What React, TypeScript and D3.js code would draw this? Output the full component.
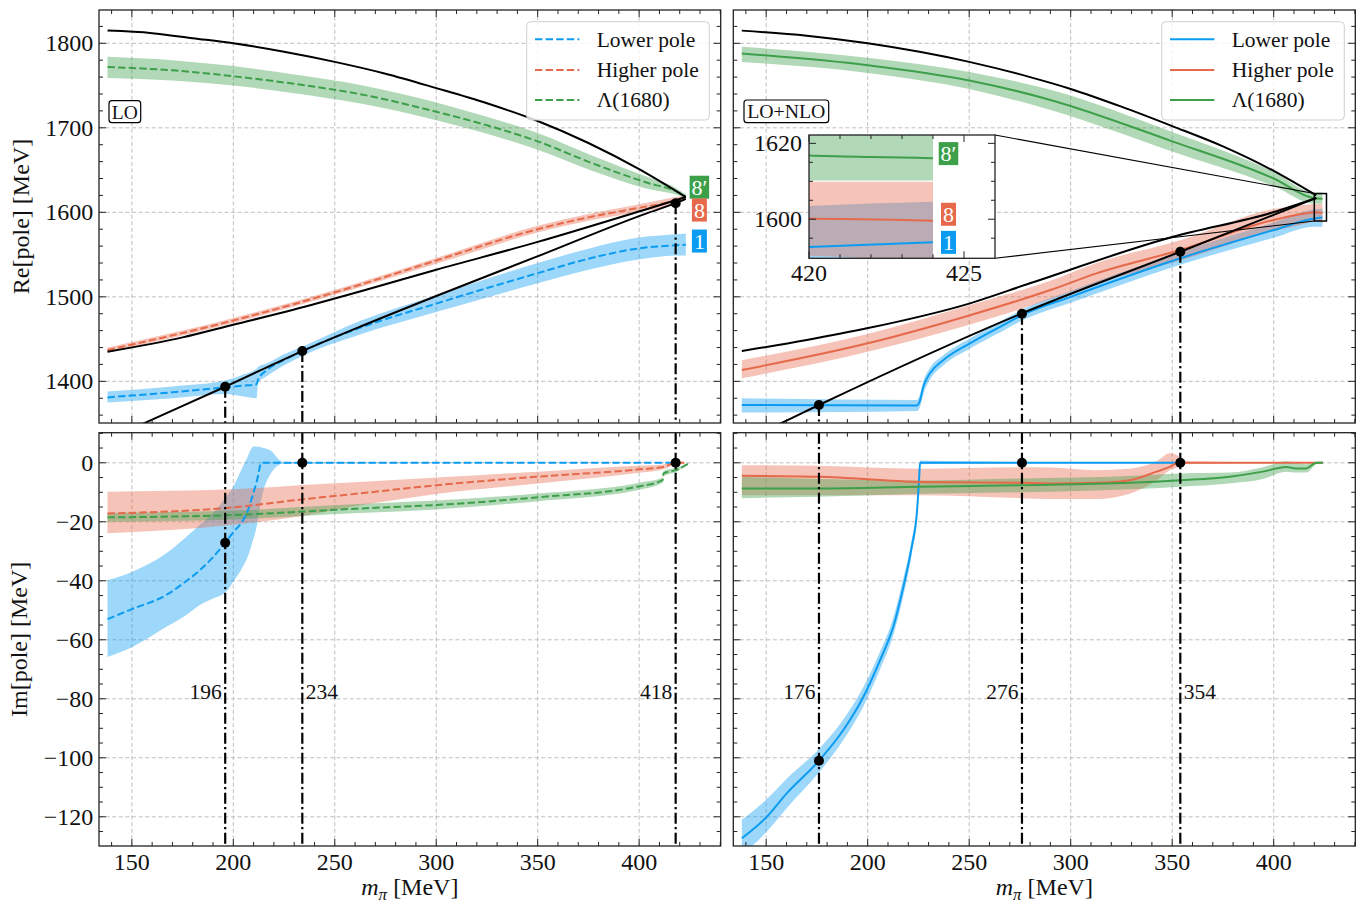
import React from 'react';
import * as d3 from 'd3';

type Pt = [number, number];
type Band = [number, number, number, number]; // m_pi, centre, lower, upper

// ---------------- LO : Re[pole] ----------------
const loReBlackA: Pt[] = [[138, 1815], [160, 1812], [180, 1806], [200, 1800], [225, 1790], [250, 1778], [275, 1764], [300, 1747], [325, 1729], [350, 1708], [375, 1682], [400, 1651], [423, 1618]];
const loReBlackB: Pt[] = [[138, 1435], [175, 1452], [200, 1467], [230, 1485], [262, 1506], [300, 1532], [350, 1565], [404, 1604], [423, 1618]];
const loReBlackC: Pt[] = [[140, 1333], [155.6, 1350], [196, 1393.6], [234, 1435.8], [262.4, 1464.6], [300, 1501], [349.5, 1547.5], [403.7, 1598.8], [418, 1610.8], [423, 1616]];
const loReLower: Band[] = [
  [138, 1381, 1375, 1388], [170, 1387, 1380, 1394], [196, 1393, 1385, 1401], [205, 1395, 1382, 1408],
  [211.5, 1396.5, 1380, 1415], [212.2, 1402, 1398, 1417], [216.4, 1413, 1406, 1421], [225, 1425, 1419, 1432],
  [234, 1435.8, 1430, 1441], [262, 1463, 1455, 1471], [300, 1492, 1482, 1502], [350, 1528, 1516, 1540],
  [375, 1545, 1532, 1557], [399, 1557, 1544, 1570], [418, 1561, 1549, 1574], [423, 1561.5, 1549, 1575]];
const loReHigher: Band[] = [
  [138, 1437, 1434, 1440], [200, 1472, 1469, 1475], [262, 1514, 1511, 1517], [300, 1543, 1539, 1546],
  [350, 1580, 1576, 1584], [375, 1594, 1590, 1598], [399, 1605, 1600, 1609], [418, 1614, 1610, 1618], [423, 1618, 1616, 1620]];
const loReL1680: Band[] = [
  [138, 1772, 1759, 1784], [170, 1768, 1756, 1780], [200, 1761, 1750, 1773], [230, 1752, 1741, 1763],
  [262, 1740, 1729, 1751], [300, 1719, 1709, 1730], [325, 1703, 1693, 1713], [350, 1684, 1674, 1694],
  [377, 1658, 1649, 1667], [404, 1635, 1628, 1642], [418, 1625, 1621, 1629], [423, 1619, 1617, 1621]];

// ---------------- LO : Im[pole] ----------------
const loImLower: Band[] = [
  [138, -53, -65.8, -39.8], [150, -49.6, -62.5, -37], [167, -44.8, -55.6, -30.7], [177, -40, -51.5, -25],
  [183.5, -36.4, -48.2, -21], [190, -32, -46, -17], [196, -27.1, -44, -12], [200, -23.5, -40.3, -8],
  [204.9, -19.4, -35, -1], [207, -16.5, -32, 2], [209.8, -10.4, -26, 5.4], [211.5, -6.5, -21.7, 5.5],
  [213.9, 0, -12, 5.2], [218, 0, -4.2, 4.3], [224.5, 0, -0.3, 0.3], [418, 0, 0, 0]];
const loImHigher: Band[] = [
  [138, -17.2, -23.9, -9.8], [200, -15.1, -21, -9], [234, -12.4, -18, -7.5], [262, -10.4, -14.5, -6.5],
  [300, -7.6, -10.6, -5], [350, -4.7, -7, -3], [399, -2.3, -3.5, -1], [412, -1.4, -2.2, -0.6],
  [418, 0, -0.5, 0.5], [422.5, 0, 0, 0]];
const loImL1680: Band[] = [
  [138, -18.5, -20, -17], [200, -17.7, -19.2, -16.2], [262, -15.5, -17, -14], [300, -14.3, -15.8, -12.8],
  [350, -11.7, -13, -10.4], [399, -8.1, -9.3, -6.9], [411.6, -5.9, -6.8, -5], [412, -3.6, -4.5, -2.7],
  [418, -2.5, -3.2, -1.8], [425, 0, 0, 0]];

// ---------------- LO+NLO : Re[pole] ----------------
const nloReBlackA: Pt[] = [[138, 1815], [170, 1809], [200, 1800], [250, 1778], [280, 1760], [300, 1746], [325, 1725], [350, 1702], [375, 1678], [400, 1649], [421, 1620]];
const nloReBlackB: Pt[] = [[138, 1435.9], [170, 1449], [199.6, 1462.7], [250.4, 1492.3], [279.9, 1516], [350.4, 1571], [399.7, 1600], [421, 1617]];
const nloReBlackC: Pt[] = [[140, 1332], [156.9, 1350], [176, 1372], [276, 1480.5], [354, 1553.4], [400, 1597], [421, 1617]];
const nloReLower: Band[] = [
  [138, 1372, 1363, 1380], [224.2, 1371.5, 1365, 1378], [225.8, 1377.4, 1370, 1385], [227.4, 1393.6, 1385, 1400],
  [230.7, 1409.5, 1402, 1416], [237.3, 1425.2, 1419, 1431], [250.4, 1445, 1439, 1451], [266.8, 1466.6, 1460, 1473],
  [276.1, 1478.5, 1472, 1485], [300, 1500, 1493, 1507], [354, 1545.6, 1538, 1553], [400, 1579, 1570, 1588],
  [420, 1592.7, 1583, 1603.5], [424, 1593.9, 1583, 1604.6]];
const nloReHigher: Band[] = [
  [138, 1413.4, 1403.6, 1425], [200, 1445, 1435, 1456], [250, 1478, 1467, 1490], [290, 1508, 1497, 1519],
  [312.7, 1527.8, 1516, 1540], [354, 1555.4, 1543, 1567], [400, 1591, 1578, 1604], [416, 1598.8, 1587, 1609],
  [420, 1600.1, 1590.3, 1609.9], [424, 1599.6, 1587.5, 1609.9]];
const nloReL1680: Band[] = [
  [138, 1788, 1778, 1796], [200, 1774, 1765, 1783], [250, 1756, 1746, 1766], [290, 1733, 1721, 1745],
  [350, 1684, 1672, 1695], [400, 1640, 1631, 1648], [420, 1616.8, 1610.2, 1623.5], [422, 1616.4, 1610.2, 1623.5],
  [424, 1616.1, 1610.2, 1623.5]];

// ---------------- LO+NLO : Im[pole] ----------------
const nloImLower: Band[] = [
  [138, -127.3, -133, -121], [150.3, -120, -125, -114], [160.2, -112, -117, -107], [176, -101, -105, -97],
  [188, -90.6, -94, -87], [197.9, -79.3, -82.5, -76], [206.1, -66.9, -70, -64], [212.6, -55.6, -58.5, -52.5],
  [217.6, -42, -45, -39], [221.7, -28.5, -31, -26], [224.2, -17.2, -19, -15], [225.3, -5.9, -7, -5],
  [225.8, 0, -0.5, 0.8], [236, 0, -0.3, 0.6], [352.8, 0, 0, 0]];
const nloImHigher: Band[] = [
  [138, -4.4, -11, -0.8], [176, -4.7, -11, -1], [225.8, -6.5, -11, -2], [276, -6.8, -12, -1.5],
  [290, -7, -12.3, -1.6], [312.7, -6.8, -12.3, -2.5], [329, -5.9, -10.5, -2], [342.3, -3, -6, 0.5],
  [348.8, -1.4, -2.5, 3.2], [352.8, 0, -1.5, 2.4], [355, 0, -0.5, 0.5], [424.3, 0, 0, 0]];
const nloImL1680: Band[] = [
  [138, -8.7, -12, -4.7], [176, -8.7, -11.5, -5.5], [225.8, -8.1, -10.5, -6], [276, -7.6, -10, -5.3],
  [329, -6.8, -9, -4.5], [354, -5.9, -8.1, -3.6], [378.3, -4.7, -7, -3.3], [394.7, -3, -5.5, -1.5],
  [406.2, -1.4, -3, 0.5], [411, -1.9, -3.3, 0], [416, -1.9, -3.3, -0.5], [421, 0, -0.5, 0.3], [424.3, 0, 0, 0]];

// ---------------- markers (vertical lines) ----------------
const loMarkX = [196, 234, 418];
const loMarkRe = [1393.6, 1435.8, 1610.8];
const loMarkIm = [-27.1, 0, 0];
const nloMarkX = [176, 276, 354];
const nloMarkRe = [1372, 1480, 1553.4];
const nloMarkIm = [-101, 0, 0];
const markLabelY = -80;

// ---------------- end labels ----------------
const loTags: [string, number, number][] = [["8′", 429.7, 1629.7], ["8", 429.7, 1602.7], ["1", 429.7, 1566]];
const insetTags: [string, number, number][] = [["8′", 424.5, 1617.3], ["8", 424.5, 1601.3], ["1", 424.5, 1593.9]];

// ---------------- axes ----------------
const X_DOMAIN: [number, number] = [133.8, 440.2];
const RE_DOMAIN: [number, number] = [1350.7, 1839.4];
const IM_DOMAIN: [number, number] = [-129.9, 10.2];
const INSET_X: [number, number] = [420, 426];
const INSET_Y: [number, number] = [1589.7, 1622.2];
const xMajor = [150, 200, 250, 300, 350, 400];
const reMajor = [1400, 1500, 1600, 1700, 1800];
const imMajor = [-120, -100, -80, -60, -40, -20, 0];
const insetXMajor = [420, 425];
const insetYMajor = [1600, 1620];
const legendNames = ['Lower pole', 'Higher pole', 'Λ(1680)'];

const FONT = '"Liberation Serif", "Times New Roman", "DejaVu Serif", serif';
const COL = { blue: '#0b9cf2', orange: '#e5694a', green: '#3e9f4b' };
const SER_COLS = [COL.blue, COL.orange, COL.green];

const PL = { l: 99, r: 720.7 };
const PR = { l: 733.3, r: 1355.3 };
const PT = { t: 10, b: 423 };
const PB = { t: 432.7, b: 846 };
const INB = { l: 809, r: 995, t: 135, b: 258.3 };

type Scale = d3.ScaleLinear<number, number>;

const fmt = (v: number) => (v < 0 ? '−' : '') + Math.abs(v);

function bandPath(xs: Scale, ys: Scale, d: Band[]) {
  return d3.area<Band>().x(p => xs(p[0])).y0(p => ys(p[2])).y1(p => ys(p[3])).curve(d3.curveMonotoneX)(d) || '';
}
function linePath(xs: Scale, ys: Scale, d: Band[]) {
  return d3.line<Band>().x(p => xs(p[0])).y(p => ys(p[1])).curve(d3.curveMonotoneX)(d) || '';
}
function ptPath(xs: Scale, ys: Scale, d: Pt[]) {
  return d3.line<Pt>().x(p => xs(p[0])).y(p => ys(p[1])).curve(d3.curveMonotoneX)(d) || '';
}

function seriesEls(key: string, xs: Scale, ys: Scale, list: Band[][], dashed: boolean) {
  const bands = list.map((d, i) => (
    <path key={key + 'b' + i} d={bandPath(xs, ys, d)} fill={SER_COLS[i]} fillOpacity={0.4} stroke="none" />
  ));
  const lines = list.map((d, i) => (
    <path key={key + 'l' + i} d={linePath(xs, ys, d)} fill="none" stroke={SER_COLS[i]} strokeWidth={2}
      strokeDasharray={dashed ? '7.4 3.2' : undefined} />
  ));
  return [...bands, ...lines];
}

function frameEls(key: string, xs: Scale, ys: Scale, box: { l: number; r: number; t: number; b: number },
  xMaj: number[], xMin: number[], yMaj: number[], yMin: number[], majLen: number, minLen: number) {
  const els: React.ReactNode[] = [];
  xMaj.forEach((v, i) => {
    const x = xs(v);
    els.push(<line key={key + 'xM' + i} x1={x} x2={x} y1={box.b} y2={box.b - majLen} stroke="#222" strokeWidth={1} />);
    els.push(<line key={key + 'xMt' + i} x1={x} x2={x} y1={box.t} y2={box.t + majLen} stroke="#222" strokeWidth={1} />);
  });
  xMin.forEach((v, i) => {
    const x = xs(v);
    els.push(<line key={key + 'xm' + i} x1={x} x2={x} y1={box.b} y2={box.b - minLen} stroke="#222" strokeWidth={1} />);
    els.push(<line key={key + 'xmt' + i} x1={x} x2={x} y1={box.t} y2={box.t + minLen} stroke="#222" strokeWidth={1} />);
  });
  yMaj.forEach((v, i) => {
    const y = ys(v);
    els.push(<line key={key + 'yM' + i} x1={box.l} x2={box.l + majLen} y1={y} y2={y} stroke="#222" strokeWidth={1} />);
    els.push(<line key={key + 'yMr' + i} x1={box.r} x2={box.r - majLen} y1={y} y2={y} stroke="#222" strokeWidth={1} />);
  });
  yMin.forEach((v, i) => {
    const y = ys(v);
    els.push(<line key={key + 'ym' + i} x1={box.l} x2={box.l + minLen} y1={y} y2={y} stroke="#222" strokeWidth={1} />);
    els.push(<line key={key + 'ymr' + i} x1={box.r} x2={box.r - minLen} y1={y} y2={y} stroke="#222" strokeWidth={1} />);
  });
  els.push(<rect key={key + 'sp'} x={box.l} y={box.t} width={box.r - box.l} height={box.b - box.t} fill="none" stroke="#222" strokeWidth={1.3} />);
  return els;
}

function gridEls(key: string, xs: Scale, ys: Scale, box: { l: number; r: number; t: number; b: number }, xMaj: number[], yMaj: number[]) {
  return [
    ...xMaj.map((v, i) => <line key={key + 'gx' + i} x1={xs(v)} x2={xs(v)} y1={box.t} y2={box.b} stroke="#b8b8b8" strokeWidth={0.9} strokeDasharray="4 2.6" />),
    ...yMaj.map((v, i) => <line key={key + 'gy' + i} x1={box.l} x2={box.r} y1={ys(v)} y2={ys(v)} stroke="#b8b8b8" strokeWidth={0.9} strokeDasharray="4 2.6" />),
  ];
}

function legendEls(key: string, right: number, top: number, dashed: boolean) {
  const w = 182.6, h = 98.3, l = right - w;
  const rows = [17.6, 48.3, 78.3];
  return (
    <g key={key}>
      <rect x={l} y={top} width={w} height={h} rx={4} fill="white" fillOpacity={0.8} stroke="#d0d0d0" strokeWidth={1} />
      {legendNames.map((n, i) => (
        <g key={n}>
          <line x1={l + 8.3} x2={l + 52.6} y1={top + rows[i]} y2={top + rows[i]} stroke={SER_COLS[i]} strokeWidth={2}
            strokeDasharray={dashed ? '7.4 3.2' : undefined} />
          <text x={l + 70} y={top + rows[i] + 7.3} fontSize={21.5} fontFamily={FONT} fill="#111">{n}</text>
        </g>
      ))}
    </g>
  );
}

function tagEls(key: string, xs: Scale, ys: Scale, tags: [string, number, number][]) {
  return tags.map(([t, x, y], i) => {
    const w = t.length > 1 ? 19.5 : 15;
    const cx = xs(x), cy = ys(y);
    return (
      <g key={key + i}>
        <rect x={cx - w / 2} y={cy - 11.5} width={w} height={23} fill={SER_COLS[2 - i]} />
        <text x={cx} y={cy + 7.6} fontSize={22} fontFamily={FONT} fill="white" textAnchor="middle">{t}</text>
      </g>
    );
  });
}

export default function App() {
  const xL = d3.scaleLinear().domain(X_DOMAIN).range([PL.l, PL.r]);
  const xR = d3.scaleLinear().domain(X_DOMAIN).range([PR.l, PR.r]);
  const yRe = d3.scaleLinear().domain(RE_DOMAIN).range([PT.b, PT.t]);
  const yIm = d3.scaleLinear().domain(IM_DOMAIN).range([PB.b, PB.t]);
  const xIn = d3.scaleLinear().domain(INSET_X).range([INB.l, INB.r]);
  const yIn = d3.scaleLinear().domain(INSET_Y).range([INB.b, INB.t]);

  const xMinor = d3.range(140, 441, 10).filter(v => v % 50 !== 0);
  const reMinor = d3.range(1360, 1840, 20).filter(v => v % 100 !== 0);
  const imMinor = d3.range(-125, 10.1, 5).filter(v => v % 20 !== 0);
  const inXMinor = [421, 422, 423, 424];
  const inYMinor = [1595, 1605, 1610, 1615];

  const boxTL = { l: PL.l, r: PL.r, t: PT.t, b: PT.b };
  const boxTR = { l: PR.l, r: PR.r, t: PT.t, b: PT.b };
  const boxBL = { l: PL.l, r: PL.r, t: PB.t, b: PB.b };
  const boxBR = { l: PR.l, r: PR.r, t: PB.t, b: PB.b };
  const boxIn = INB;

  const dashDot = '11 3.4 2.2 3.4';

  const markerTop = (key: string, xs: Scale, xv: number[], yv: number[]) => xv.map((x, i) => (
    <g key={key + i}>
      <line x1={xs(x)} x2={xs(x)} y1={yRe(yv[i])} y2={PT.b} stroke="#000" strokeWidth={2.2} strokeDasharray={dashDot} />
      <circle cx={xs(x)} cy={yRe(yv[i])} r={5} fill="#000" />
    </g>
  ));
  const markerBot = (key: string, xs: Scale, xv: number[], yv: number[], anchors: string[]) => xv.map((x, i) => (
    <g key={key + i}>
      <line x1={xs(x)} x2={xs(x)} y1={PB.t} y2={PB.b} stroke="#000" strokeWidth={2.2} strokeDasharray={dashDot} />
      <circle cx={xs(x)} cy={yIm(yv[i])} r={5} fill="#000" />
      <text x={xs(x) + (anchors[i] === 'end' ? -3.5 : 3.5)} y={yIm(markLabelY)} fontSize={21.5} fontFamily={FONT}
        textAnchor={anchors[i]} fill="#111">{x}</text>
    </g>
  ));

  return (
    <svg width={1357} height={903} style={{ position: 'absolute', left: 0, top: 0, background: 'white' }}
      fontFamily={FONT}>
      <defs>
        <clipPath id="cTL"><rect x={boxTL.l} y={boxTL.t} width={boxTL.r - boxTL.l} height={boxTL.b - boxTL.t} /></clipPath>
        <clipPath id="cTR"><rect x={boxTR.l} y={boxTR.t} width={boxTR.r - boxTR.l} height={boxTR.b - boxTR.t} /></clipPath>
        <clipPath id="cBL"><rect x={boxBL.l} y={boxBL.t} width={boxBL.r - boxBL.l} height={boxBL.b - boxBL.t} /></clipPath>
        <clipPath id="cBR"><rect x={boxBR.l} y={boxBR.t} width={boxBR.r - boxBR.l} height={boxBR.b - boxBR.t} /></clipPath>
        <clipPath id="cIN"><rect x={boxIn.l} y={boxIn.t} width={boxIn.r - boxIn.l} height={boxIn.b - boxIn.t} /></clipPath>
      </defs>
      <rect x={0} y={0} width={1357} height={903} fill="white" />

      {gridEls('gTL', xL, yRe, boxTL, xMajor, reMajor)}
      {gridEls('gTR', xR, yRe, boxTR, xMajor, reMajor)}
      {gridEls('gBL', xL, yIm, boxBL, xMajor, imMajor)}
      {gridEls('gBR', xR, yIm, boxBR, xMajor, imMajor)}

      <g clipPath="url(#cTL)">
        {seriesEls('tl', xL, yRe, [loReLower, loReHigher, loReL1680], true)}
        {[loReBlackA, loReBlackB, loReBlackC].map((d, i) => (
          <path key={'tlk' + i} d={ptPath(xL, yRe, d)} fill="none" stroke="#000" strokeWidth={2} />
        ))}
        {markerTop('tlm', xL, loMarkX, loMarkRe)}
        {tagEls('tlt', xL, yRe, loTags)}
      </g>

      <g clipPath="url(#cTR)">
        {seriesEls('tr', xR, yRe, [nloReLower, nloReHigher, nloReL1680], false)}
        {[nloReBlackA, nloReBlackB, nloReBlackC].map((d, i) => (
          <path key={'trk' + i} d={ptPath(xR, yRe, d)} fill="none" stroke="#000" strokeWidth={2} />
        ))}
        {markerTop('trm', xR, nloMarkX, nloMarkRe)}
        <rect x={xR(INSET_X[0])} y={yRe(INSET_Y[1])} width={xR(INSET_X[1]) - xR(INSET_X[0])}
          height={yRe(INSET_Y[0]) - yRe(INSET_Y[1])} fill="none" stroke="#000" strokeWidth={1.5} />
        <line x1={INB.r} y1={INB.t} x2={xR(INSET_X[0])} y2={yRe(INSET_Y[1])} stroke="#000" strokeWidth={1.1} />
        <line x1={INB.r} y1={INB.b} x2={xR(INSET_X[0])} y2={yRe(INSET_Y[0])} stroke="#000" strokeWidth={1.1} />
      </g>

      <g clipPath="url(#cBL)">
        {seriesEls('bl', xL, yIm, [loImLower, loImHigher, loImL1680], true)}
        {markerBot('blm', xL, loMarkX, loMarkIm, ['end', 'start', 'end'])}
      </g>

      <g clipPath="url(#cBR)">
        {seriesEls('br', xR, yIm, [nloImLower, nloImHigher, nloImL1680], false)}
        {markerBot('brm', xR, nloMarkX, nloMarkIm, ['end', 'end', 'start'])}
      </g>

      {frameEls('fTL', xL, yRe, boxTL, xMajor, xMinor, reMajor, reMinor, 7, 4)}
      {frameEls('fTR', xR, yRe, boxTR, xMajor, xMinor, reMajor, reMinor, 7, 4)}
      {frameEls('fBL', xL, yIm, boxBL, xMajor, xMinor, imMajor, imMinor, 7, 4)}
      {frameEls('fBR', xR, yIm, boxBR, xMajor, xMinor, imMajor, imMinor, 7, 4)}

      {legendEls('legL', PL.r - 11.4, PT.t + 11.7, true)}
      {legendEls('legR', PR.r - 11, PT.t + 11.7, false)}
      <g>
        <rect x={PL.l + 10} y={PT.t + 90.7} width={31.7} height={22} rx={3} fill="white" stroke="#000" strokeWidth={1.2} />
        <text x={PL.l + 25.85} y={PT.t + 108.6} fontSize={19.5} textAnchor="middle" fill="#111">LO</text>
        <rect x={PR.l + 10.7} y={PT.t + 90} width={84.7} height={22.7} rx={3} fill="white" stroke="#000" strokeWidth={1.2} />
        <text x={PR.l + 53} y={PT.t + 108.3} fontSize={19.8} textAnchor="middle" fill="#111">LO+NLO</text>
      </g>

      <rect x={INB.l} y={INB.t} width={INB.r - INB.l} height={INB.b - INB.t} fill="white" />
      <g clipPath="url(#cIN)">
        {seriesEls('in', xIn, yIn, [nloReLower, nloReHigher, nloReL1680], false)}
      </g>
      {tagEls('int', xIn, yIn, insetTags)}
      {frameEls('fIN', xIn, yIn, boxIn, insetXMajor, inXMinor, insetYMajor, inYMinor, 7, 4)}
      {insetXMajor.map(v => (
        <text key={'ixl' + v} x={xIn(v)} y={INB.b + 22.5} fontSize={24} textAnchor="middle" fill="#111">{v}</text>
      ))}
      {insetYMajor.map(v => (
        <text key={'iyl' + v} x={INB.l - 7} y={yIn(v) + 8.1} fontSize={24} textAnchor="end" fill="#111">{v}</text>
      ))}

      {reMajor.map(v => (
        <text key={'rl' + v} x={PL.l - 5.7} y={yRe(v) + 8.1} fontSize={24} textAnchor="end" fill="#111">{v}</text>
      ))}
      {imMajor.map(v => (
        <text key={'il' + v} x={PL.l - 5.7} y={yIm(v) + 8.1} fontSize={24} textAnchor="end" fill="#111">{fmt(v)}</text>
      ))}
      {xMajor.map(v => (
        <text key={'xl' + v} x={xL(v)} y={869.5} fontSize={24} textAnchor="middle" fill="#111">{v}</text>
      ))}
      {xMajor.map(v => (
        <text key={'xr' + v} x={xR(v)} y={869.5} fontSize={24} textAnchor="middle" fill="#111">{v}</text>
      ))}

      <text transform={`translate(29,${(PT.t + PT.b) / 2}) rotate(-90)`} fontSize={24} textAnchor="middle" fill="#111">Re[pole] [MeV]</text>
      <text transform={`translate(27,${(PB.t + PB.b) / 2}) rotate(-90)`} fontSize={24} textAnchor="middle" fill="#111">Im[pole] [MeV]</text>
      {[PL, PR].map((p, i) => (
        <text key={'xt' + i} x={(p.l + p.r) / 2} y={895} fontSize={24} textAnchor="middle" fill="#111">
          <tspan fontStyle="italic">m</tspan>
          <tspan fontStyle="italic" fontSize={17} dy={5}>π</tspan>
          <tspan dy={-5}> [MeV]</tspan>
        </text>
      ))}
    </svg>
  );
}
